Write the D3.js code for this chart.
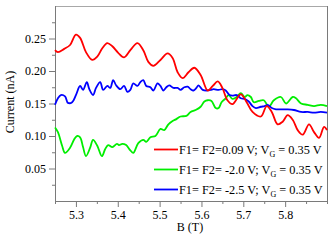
<!DOCTYPE html>
<html>
<head>
<meta charset="utf-8">
<script src="https://cdn.jsdelivr.net/npm/d3@7"></script>
<style>
  body { margin: 0; background: #fff; }
</style>
</head>
<body>
<script>
// B field (T) and current (nA)
const redB = [5.250,5.257,5.272,5.286,5.300,5.310,5.324,5.339,5.351,5.363,5.375,5.387,5.401,5.415,5.430,5.447,5.461,5.473,5.485,5.502,5.519,5.531,5.543,5.555,5.569,5.583,5.598,5.615,5.627,5.639,5.650,5.662,5.674,5.694,5.708,5.722,5.742,5.756,5.768,5.782,5.794,5.806,5.818,5.830,5.842,5.857,5.869,5.881,5.893,5.900];
const redI = [0.232,0.229,0.234,0.240,0.256,0.251,0.229,0.217,0.222,0.235,0.243,0.238,0.228,0.221,0.232,0.243,0.232,0.214,0.208,0.217,0.227,0.220,0.198,0.189,0.198,0.205,0.194,0.170,0.177,0.184,0.174,0.155,0.149,0.164,0.152,0.137,0.130,0.146,0.137,0.118,0.122,0.132,0.125,0.109,0.102,0.118,0.106,0.097,0.114,0.109];

const greenB = [5.250,5.257,5.267,5.274,5.286,5.296,5.303,5.310,5.317,5.324,5.334,5.341,5.351,5.362,5.370,5.377,5.387,5.398,5.403,5.411,5.420,5.430,5.437,5.449,5.461,5.468,5.478,5.490,5.502,5.511,5.521,5.531,5.540,5.550,5.564,5.574,5.586,5.598,5.607,5.615,5.624,5.634,5.641,5.648,5.658,5.665,5.674,5.684,5.694,5.703,5.710,5.718,5.725,5.737,5.749,5.761,5.773,5.790,5.802,5.818,5.826,5.838,5.854,5.869,5.885,5.900];
const greenI = [0.113,0.106,0.085,0.074,0.082,0.095,0.100,0.098,0.083,0.069,0.082,0.094,0.085,0.069,0.080,0.086,0.083,0.088,0.086,0.088,0.086,0.078,0.074,0.089,0.094,0.091,0.098,0.100,0.111,0.109,0.118,0.123,0.126,0.130,0.131,0.137,0.140,0.145,0.153,0.155,0.154,0.143,0.143,0.152,0.158,0.163,0.157,0.160,0.166,0.160,0.163,0.160,0.152,0.154,0.155,0.145,0.155,0.160,0.150,0.160,0.158,0.150,0.148,0.146,0.148,0.146];

const blueB = [5.250,5.257,5.264,5.274,5.281,5.291,5.300,5.310,5.317,5.326,5.332,5.341,5.348,5.358,5.365,5.375,5.382,5.389,5.396,5.406,5.415,5.423,5.430,5.437,5.447,5.454,5.461,5.468,5.478,5.485,5.495,5.502,5.509,5.516,5.523,5.533,5.543,5.550,5.559,5.567,5.574,5.581,5.588,5.593,5.603,5.612,5.622,5.629,5.641,5.650,5.658,5.667,5.674,5.684,5.694,5.703,5.713,5.722,5.730,5.742,5.751,5.758,5.768,5.778,5.790,5.806,5.821,5.838,5.854,5.869,5.885,5.900];
const blueI = [0.148,0.158,0.163,0.161,0.151,0.152,0.163,0.177,0.171,0.183,0.172,0.163,0.174,0.183,0.171,0.177,0.174,0.186,0.178,0.172,0.177,0.168,0.171,0.181,0.177,0.183,0.186,0.177,0.175,0.170,0.181,0.177,0.170,0.175,0.178,0.174,0.174,0.171,0.175,0.176,0.172,0.170,0.174,0.178,0.171,0.170,0.171,0.172,0.171,0.172,0.170,0.163,0.162,0.163,0.158,0.157,0.153,0.146,0.143,0.145,0.146,0.148,0.143,0.141,0.141,0.141,0.140,0.137,0.137,0.136,0.137,0.136];

const xTicks = [5.3, 5.4, 5.5, 5.6, 5.7, 5.8];
const yTicks = [0.05, 0.10, 0.15, 0.20, 0.25];
const legendLabels = [
  ['F1= F2=0.09 V; V', 'G', ' = 0.35 V'],
  ['F1= F2= -2.0 V; V', 'G', ' = 0.35 V'],
  ['F1= F2= -2.5 V; V', 'G', ' = 0.35 V']
];

const series = [
  { b: redB, i: redI, color: '#ff0000' },
  { b: greenB, i: greenI, color: '#00ee00' },
  { b: blueB, i: blueI, color: '#0000ff' }
];

const W = 332, H = 244;
const pLeft = 55, pRight = 327, pTop = 6, pBottom = 201;
const axisColor = '#7a7a7a';
const serif = "'Liberation Serif', 'Times New Roman', Times, serif";

const svg = d3.select('body').append('svg')
  .attr('width', W)
  .attr('height', H)
  .style('font-family', serif);

const x = d3.scaleLinear().domain([5.25, 5.9]).range([pLeft, pRight]);
const y = d3.scaleLinear().domain([0, 0.3]).range([pBottom, pTop]);

// frame: top edge lighter than the other three
svg.append('line')
  .attr('x1', pLeft).attr('x2', pRight).attr('y1', pTop + 0.5).attr('y2', pTop + 0.5)
  .attr('stroke', '#a8a8a8');
svg.append('path')
  .attr('d', `M${pLeft + 0.5},${pTop}V${pBottom + 0.5}H${pRight + 0.5}V${pTop}`)
  .attr('fill', 'none').attr('stroke', axisColor);

// minor ticks
const xMinor = d3.range(5.25, 5.9, 0.05).filter(v => !xTicks.some(t => Math.abs(t - v) < 1e-6));
const yMinor = d3.range(0.025, 0.3, 0.05);

const gx = svg.append('g').attr('transform', `translate(0,${pBottom})`);
gx.call(d3.axisBottom(x).tickValues(xMinor).tickSize(3).tickFormat(''));
gx.append('g').call(d3.axisBottom(x).tickValues(xTicks).tickSize(6).tickPadding(3).tickFormat(d3.format('.1f')));

const gy = svg.append('g').attr('transform', `translate(${pLeft},0)`);
gy.call(d3.axisLeft(y).tickValues(yMinor).tickSize(3).tickFormat(''));
gy.append('g').call(d3.axisLeft(y).tickValues(yTicks).tickSize(6).tickPadding(3).tickFormat(d3.format('.2f')));

svg.selectAll('.domain').remove();
svg.selectAll('.tick line').attr('stroke', axisColor);
svg.selectAll('g').attr('font-family', null);
svg.selectAll('.tick text').attr('font-size', 12).attr('fill', '#000')
  .style('font-family', serif);

// curves
const line = d3.line()
  .x(d => x(d[0]))
  .y(d => y(d[1]))
  .curve(d3.curveCatmullRom);

const plot = svg.append('g');
[series[1], series[2], series[0]].forEach(s => {
  plot.append('path')
    .datum(s.b.map((b, k) => [b, s.i[k]]))
    .attr('d', line)
    .attr('fill', 'none')
    .attr('stroke', s.color)
    .attr('stroke-width', 1.8)
    .attr('stroke-linejoin', 'round');
});

// legend
const legend = svg.append('g');
series.forEach((s, k) => {
  const ly = 149.5 + k * 20;
  legend.append('line')
    .attr('x1', 154).attr('x2', 178)
    .attr('y1', ly).attr('y2', ly)
    .attr('stroke', s.color).attr('stroke-width', 1.8);
  const t = legend.append('text')
    .attr('x', 179).attr('y', ly + 4)
    .attr('font-size', 12.3)
    .style('font-family', serif);
  t.append('tspan').text(legendLabels[k][0]);
  t.append('tspan').attr('font-size', 8).attr('dy', 3).text(legendLabels[k][1]);
  t.append('tspan').attr('dy', -3).text(legendLabels[k][2]);
});

// axis titles
svg.append('text')
  .attr('x', 190).attr('y', 231)
  .attr('text-anchor', 'middle')
  .attr('font-size', 12)
  .style('font-family', serif)
  .text('B (T)');

svg.append('text')
  .attr('transform', 'translate(14,102) rotate(-90)')
  .attr('text-anchor', 'middle')
  .attr('font-size', 12)
  .style('font-family', serif)
  .text('Current (nA)');
</script>
</body>
</html>
